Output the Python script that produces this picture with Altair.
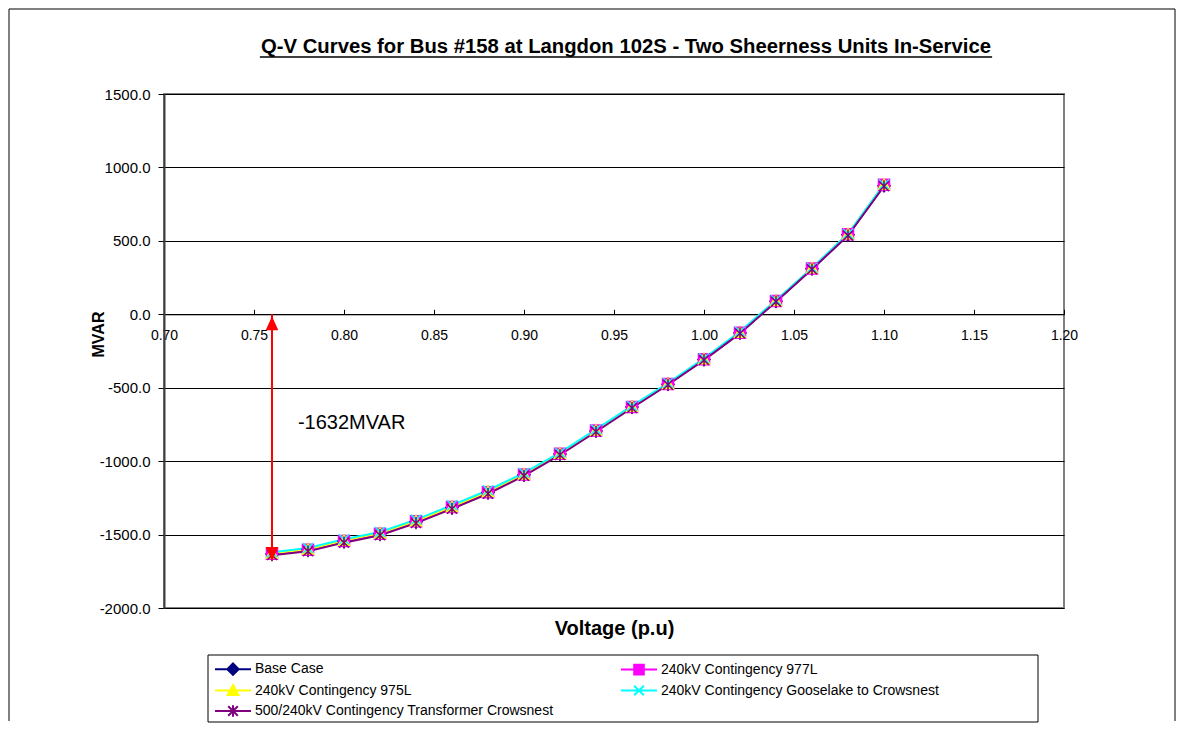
import altair as alt
import pandas as pd

# ---------------- data ----------------
voltage = [0.76, 0.78, 0.80, 0.82, 0.84, 0.86, 0.88, 0.90, 0.92, 0.94,
           0.96, 0.98, 1.00, 1.02, 1.04, 1.06, 1.08, 1.10]

base_case = [-1632, -1604, -1545, -1495, -1412, -1315, -1213, -1093, -952, -794,
             -632, -476, -308, -127, 88, 310, 541, 876]
cont_977L = [-1630, -1603, -1543, -1494, -1410, -1313, -1211, -1091, -950, -792,
             -631, -474, -306, -125, 90, 312, 545, 882]
cont_975L = [-1628, -1601, -1541, -1492, -1408, -1311, -1209, -1089, -949, -791,
             -629, -473, -305, -124, 92, 314, 547, 884]
cont_gooselake = [-1620, -1592, -1532, -1482, -1398, -1300, -1198, -1080, -942, -784,
                  -624, -468, -300, -118, 96, 316, 548, 884]
cont_crowsnest = [-1640, -1614, -1555, -1504, -1422, -1325, -1222, -1100, -958, -800,
                  -638, -480, -312, -130, 86, 306, 536, 872]

series_names = [
    "Base Case",
    "240kV Contingency 977L",
    "240kV Contingency 975L",
    "240kV Contingency Gooselake to Crowsnest",
    "500/240kV Contingency Transformer Crowsnest",
]
series_values = [base_case, cont_977L, cont_975L, cont_gooselake, cont_crowsnest]

x_ticks = [0.70, 0.75, 0.80, 0.85, 0.90, 0.95, 1.00, 1.05, 1.10, 1.15, 1.20]
y_ticks = [-2000, -1500, -1000, -500, 0, 500, 1000, 1500]

title_text = ["Q-V Curves for Bus #158 at Langdon 102S - Two Sheerness Units In-Service"]
x_title = "Voltage (p.u)"
y_title = "MVAR"

arrow_x = [0.76]
arrow_top = [0.0]
arrow_bottom = [-1632.0]
note_x = [0.7744]
note_y = [-738.0]
note_text = ["-1632MVAR"]

# ---------------- styles ----------------
series_colors = ["#000080", "#FF00FF", "#FFFF00", "#00FFFF", "#800080"]
marker_paths = [
    "M0,-1.1L1.1,0L0,1.1L-1.1,0Z",
    "M-1,-1L1,-1L1,1L-1,1Z",
    "M0,-1L1,0.85L-1,0.85Z",
    "M-0.9,-0.9L0.9,0.9M-0.9,0.9L0.9,-0.9",
    "M-0.9,-0.9L0.9,0.9M-0.9,0.9L0.9,-0.9M0,-1.1L0,1.1",
]
legend_paths = [
    "M-3,0L3,0M0,-0.95L0.95,0L0,0.95L-0.95,0Z",
    "M-3,0L3,0M-0.8,-0.8L0.8,-0.8L0.8,0.8L-0.8,0.8Z",
    "M-3,0L3,0M0,-0.9L0.9,0.75L-0.9,0.75Z",
    "M-3,0L3,0M-0.8,-0.8L0.8,0.8M-0.8,0.8L0.8,-0.8",
    "M-3,0L3,0M-0.8,-0.8L0.8,0.8M-0.8,0.8L0.8,-0.8M0,-0.95L0,0.95",
]

FONT = "Liberation Sans"
W, H = 900, 514
X_DOM = [0.70, 1.20]
Y_DOM = [-2000, 1500]
zero_px = H * (Y_DOM[1] - 0) / (Y_DOM[1] - Y_DOM[0])
TITLE_SIZE = 20.3
TITLE_CX = W / 2 + 12
TITLE_HALF_WIDTH = 36.07 * TITLE_SIZE / 2

rows = []
for name, vals in zip(series_names, series_values):
    for v, q in zip(voltage, vals):
        rows.append({"Voltage": v, "MVAR": q, "Series": name})
df = pd.DataFrame(rows)

arrow_df = pd.DataFrame({"ax": arrow_x, "at": arrow_top, "ab": arrow_bottom})
note_df = pd.DataFrame({"nx": note_x, "ny": note_y, "nt": note_text})
title_df = pd.DataFrame({"t": title_text})
one = pd.DataFrame({"k": [0]})

xs = alt.Scale(domain=X_DOM, nice=False, zero=False)
ys = alt.Scale(domain=Y_DOM, nice=False, zero=False)

y_axis = alt.Axis(values=y_ticks, format=".1f",
                  labelExpr="replace(datum.label, '\u2212', '-')",
                  grid=True, gridColor="black",
                  gridWidth=1, gridOpacity=1, tickSize=6, tickColor="black",
                  domainColor="#404040", domainWidth=2, labelFontSize=15,
                  labelColor="black", labelPadding=8, labelFlush=False,
                  labelFont=FONT, title=y_title, titleFont=FONT, titleFontSize=16,
                  titleFontWeight="bold", titleColor="black",
                  titleX=-58, titleY=240, titleBaseline="bottom",
                  titleAngle=270, titleAlign="center")

x_axis_main = alt.Axis(values=x_ticks, format=".2f", orient="bottom",
                       offset=-(H - zero_px), ticks=False, tickSize=0,
                       domain=True, domainColor="black", domainWidth=1,
                       grid=False, labelFont=FONT, labelFontSize=14,
                       labelColor="black", labelPadding=14, labelFlush=False,
                       labelOverlap=False, title=None)
x_axis_ticks = alt.Axis(values=x_ticks, orient="top", offset=-zero_px,
                        ticks=True, tickSize=5, tickColor="black", labels=False,
                        domain=False, grid=False, title=None)
x_axis_title = alt.Axis(orient="bottom", labels=False, ticks=False, domain=False,
                        grid=False, title=x_title, titleFont=FONT,
                        titleFontSize=20, titleFontWeight="bold",
                        titleColor="black", titlePadding=10)

color_scale = alt.Scale(domain=series_names, range=series_colors)

legend_def = alt.Legend(title=None, orient="none", legendX=44, legendY=564,
                        direction="horizontal", columns=2, columnPadding=63,
                        rowPadding=1.5, padding=4,
                        labelFont=FONT,
                        labelFontSize=14, labelColor="black", labelLimit=600,
                        labelOffset=15, symbolOffset=14, symbolSize=144,
                        symbolStrokeWidth=2, symbolOpacity=1)

lines = alt.Chart(df).mark_line(strokeWidth=2).encode(
    x=alt.X("Voltage:Q", scale=xs, axis=x_axis_main),
    y=alt.Y("MVAR:Q", scale=ys, axis=y_axis),
    stroke=alt.Stroke("Series:N", scale=color_scale, legend=None),
)

points = alt.Chart(df).mark_point(filled=True, opacity=1, size=121, strokeWidth=1.5).encode(
    x=alt.X("Voltage:Q", scale=xs, axis=x_axis_ticks),
    y=alt.Y("MVAR:Q", scale=ys, axis=y_axis),
    fill=alt.Fill("Series:N", scale=color_scale, legend=None),
    stroke=alt.Stroke("Series:N", scale=color_scale, legend=None),
    shape=alt.Shape("Series:N", scale=alt.Scale(domain=series_names, range=marker_paths), legend=None),
)

legend_layer = alt.Chart(df).transform_filter("false").mark_point(
    filled=True, opacity=1, strokeWidth=2).encode(
    x=alt.X("Voltage:Q", scale=xs, axis=x_axis_title),
    y=alt.Y("MVAR:Q", scale=ys, axis=y_axis),
    fill=alt.Fill("Series:N", scale=color_scale, legend=legend_def),
    stroke=alt.Stroke("Series:N", scale=color_scale, legend=legend_def),
    shape=alt.Shape("Series:N", scale=alt.Scale(domain=series_names, range=legend_paths), legend=legend_def),
)

arrow_line = alt.Chart(arrow_df).mark_rule(color="#FF0000", strokeWidth=2).encode(
    x=alt.X("ax:Q", scale=xs, axis=None),
    y=alt.Y("ab:Q", scale=ys, axis=y_axis),
    y2="at:Q",
)
arrow_up = alt.Chart(arrow_df).mark_point(
    shape="M0,-1L0.9,1L-0.9,1Z", filled=True, color="#FF0000", opacity=1,
    size=196, yOffset=9).encode(
    x=alt.X("ax:Q", scale=xs, axis=None),
    y=alt.Y("at:Q", scale=ys, axis=y_axis),
)
arrow_down = alt.Chart(arrow_df).mark_point(
    shape="M0,1L0.9,-1L-0.9,-1Z", filled=True, color="#FF0000", opacity=1,
    size=196, yOffset=0).encode(
    x=alt.X("ax:Q", scale=xs, axis=None),
    y=alt.Y("ab:Q", scale=ys, axis=y_axis),
)
note = alt.Chart(note_df).mark_text(font=FONT, fontSize=20, align="left",
                                    baseline="middle", color="black").encode(
    x=alt.X("nx:Q", scale=xs, axis=None),
    y=alt.Y("ny:Q", scale=ys, axis=y_axis),
    text="nt:N",
)

title_layer = alt.Chart(title_df).mark_text(font=FONT, fontSize=TITLE_SIZE, fontWeight="bold",
                                            align="center", baseline="middle",
                                            color="black").encode(
    x=alt.value(TITLE_CX), y=alt.value(-47), text="t:N")
underline = alt.Chart(one).mark_rule(color="black", strokeWidth=1.5).encode(
    x=alt.value(TITLE_CX - TITLE_HALF_WIDTH), x2=alt.value(TITLE_CX + TITLE_HALF_WIDTH),
    y=alt.value(-37))

legend_box = alt.Chart(one).mark_rect(fill="white", stroke="black", strokeWidth=1).encode(
    x=alt.value(44), x2=alt.value(874), y=alt.value(561), y2=alt.value(628))

frame_top = alt.Chart(one).mark_rule(color="black", strokeWidth=1).encode(
    x=alt.value(-155), x2=alt.value(1011), y=alt.value(-85))
frame_left = alt.Chart(one).mark_rule(color="black", strokeWidth=1).encode(
    x=alt.value(-155), y=alt.value(-85), y2=alt.value(627))
frame_right = alt.Chart(one).mark_rule(color="black", strokeWidth=1).encode(
    x=alt.value(1011), y=alt.value(-85), y2=alt.value(627))

chart = alt.layer(
    lines, points, legend_box, legend_layer, arrow_line, arrow_up, arrow_down, note,
    title_layer, underline, frame_top, frame_left, frame_right,
).resolve_scale(
    fill="independent", stroke="independent", shape="independent"
).resolve_axis(
    x="independent"
).properties(
    width=W, height=H, padding=0, background="white"
).configure(
    font=FONT
).configure_view(
    stroke="#808080", strokeWidth=2
)

chart.save("out.html", embed_options={"renderer": "svg", "actions": False})
